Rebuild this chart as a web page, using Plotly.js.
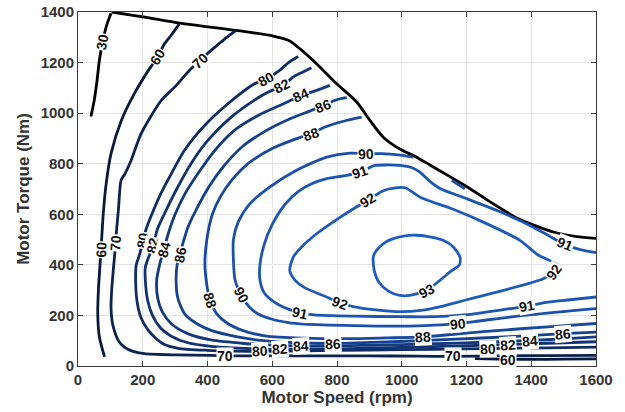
<!DOCTYPE html>
<html><head><meta charset="utf-8">
<script src="https://cdn.plot.ly/plotly-3.0.1.min.js"></script>
<style>html,body{margin:0;padding:0;background:#fff}#chart{width:625px;height:412px}</style>
</head><body><div id="chart"></div>
<script>
// ---- data (motor speed rpm, torque Nm) ----
const boundary_rpm = [104, 200, 315, 490, 603, 650, 685, 737, 799, 861, 902, 943, 994, 1046, 1087, 1150, 1200, 1260, 1312, 1355, 1410, 1468, 1540, 1600];
const boundary_nm  = [1400, 1381, 1356, 1327, 1305, 1288, 1255, 1195, 1116, 1044, 971, 905, 858, 826, 795, 748, 710, 660, 618, 585, 556, 530, 512, 505];

const c30_rpm = [40, 50, 58, 66, 76, 88, 102];
const c30_nm  = [987, 1050, 1120, 1208, 1280, 1345, 1395];

const c60a_rpm = [313, 290, 267, 246, 221, 174, 134, 102, 87, 78, 72, 67, 63, 61, 66, 82];
const c60a_nm  = [1353, 1312, 1274, 1221, 1176, 1077, 971, 840, 721, 602, 480, 380, 299, 207, 115, 36];
const c60b_rpm = [1226, 1300, 1400, 1500, 1600];
const c60b_nm  = [29, 27, 26, 27, 28];

const c70_rpm = [488, 450, 411, 376, 339, 300, 257, 195, 164, 145, 133, 125, 118, 114, 109, 104, 102, 105, 112, 125, 143, 170, 205, 300, 411, 453, 550, 700, 900, 1050, 1159, 1300, 1450, 1600];
const c70_nm  = [1327, 1290, 1248, 1208, 1162, 1105, 1050, 919, 813, 760, 734, 620, 520, 450, 380, 300, 233, 180, 141, 100, 75, 58, 49, 44, 42, 40, 40, 40, 40, 39, 38, 40, 41, 42];

const c80_rpm = [680, 650, 623, 582, 545, 463, 391, 329, 288, 255, 228, 210, 201, 190, 180, 178, 183, 195, 215, 240, 267, 310, 400, 480, 562, 700, 900, 1100, 1267, 1450, 1600];
const c80_nm  = [1224, 1200, 1169, 1136, 1116, 1037, 951, 853, 760, 680, 600, 540, 497, 440, 400, 339, 250, 190, 145, 110, 85, 70, 62, 59, 58, 60, 63, 66, 69, 72, 75];

const c82_rpm = [721, 690, 665, 629, 590, 555, 473, 401, 349, 305, 270, 245, 232, 215, 208, 208, 215, 230, 255, 288, 339, 411, 514, 623, 800, 1000, 1200, 1329, 1450, 1600];
const c82_nm  = [1180, 1160, 1143, 1106, 1085, 1060, 984, 892, 800, 700, 610, 540, 477, 420, 390, 339, 260, 200, 150, 118, 92, 78, 70, 66, 68, 74, 80, 85, 90, 96];

const c84_rpm = [778, 737, 690, 640, 555, 483, 421, 370, 330, 300, 278, 265, 252, 243, 246, 260, 290, 339, 411, 514, 617, 690, 900, 1100, 1250, 1396, 1500, 1600];
const c84_nm  = [1110, 1090, 1070, 1040, 990, 932, 850, 760, 680, 600, 520, 460, 400, 339, 270, 215, 165, 128, 103, 89, 82, 78, 82, 88, 94, 101, 107, 115];

const c86_rpm = [830, 799, 757, 721, 650, 580, 510, 450, 405, 370, 340, 325, 314, 306, 303, 308, 330, 370, 411, 493, 566, 669, 788, 950, 1150, 1350, 1499, 1600];
const c86_nm  = [1061, 1053, 1030, 1011, 975, 930, 870, 790, 710, 630, 550, 490, 440, 400, 339, 270, 205, 165, 141, 115, 101, 92, 89, 95, 105, 117, 128, 134];

const c88_rpm = [876, 820, 763, 721, 675, 600, 530, 475, 440, 415, 398, 392, 398, 407, 428, 460, 510, 582, 700, 840, 950, 1066, 1200, 1303, 1450, 1600];
const c88_nm  = [984, 968, 945, 919, 899, 860, 805, 735, 670, 600, 500, 400, 320, 260, 207, 170, 140, 118, 110, 108, 111, 115, 130, 141, 155, 168];

const c90a_rpm = [1036, 990, 938, 891, 840, 768, 675, 593, 530, 495, 480, 480, 485, 504, 530, 555, 600, 650, 700, 850, 1000, 1100, 1175, 1250, 1400, 1600];
const c90a_nm  = [826, 835, 840, 840, 842, 826, 774, 708, 640, 570, 500, 420, 340, 279, 232, 207, 185, 172, 166, 160, 158, 162, 168, 180, 203, 227];
const c90b_rpm = [1154, 1195];
const c90b_nm  = [734, 701];

const c91_rpm = [1600, 1551, 1504, 1450, 1396, 1300, 1200, 1118, 1087, 1056, 1030, 994, 950, 917, 871, 830, 768, 720, 680, 640, 600, 575, 562, 562, 575, 610, 650, 685, 730, 850, 1000, 1100, 1200, 1324, 1386, 1437, 1520, 1600];
const c91_nm  = [448, 460, 481, 518, 556, 612, 662, 702, 730, 767, 785, 793, 795, 793, 767, 754, 741, 720, 690, 640, 560, 480, 400, 340, 290, 250, 225, 210, 202, 197, 195, 195, 203, 225, 236, 250, 262, 273];

const c92_rpm = [1479, 1420, 1365, 1262, 1159, 1060, 1010, 960, 938, 896, 860, 800, 737, 690, 665, 654, 670, 700, 768, 809, 850, 920, 994, 1060, 1120, 1200, 1314, 1437, 1470, 1479];
const c92_nm  = [400, 440, 497, 563, 620, 665, 705, 700, 690, 655, 629, 580, 523, 470, 431, 378, 340, 310, 273, 250, 235, 222, 215, 220, 235, 262, 299, 345, 372, 400];

const c93_rpm = [912, 922, 950, 974, 1010, 1046, 1090, 1128, 1160, 1180, 1178, 1149, 1118, 1077, 1025, 994, 960, 930, 915, 912];
const c93_nm  = [431, 457, 490, 504, 515, 517, 510, 497, 470, 430, 400, 372, 339, 299, 279, 279, 295, 330, 378, 431];

// contour labels
const label_text = ["30","60","70","80","82","84","86","88","90","91","92","93","92","91","92","91","90","88","60","70","80","82","84","86","80","82","84","86","88","90","91","70","70","80","82","84","86","60"];
const label_rpm  = [76, 246, 376, 582, 629, 690, 757, 721, 891, 871, 896, 1077, 1470, 1504, 809, 685, 504, 407, 71, 115, 201, 232, 265, 315, 562, 623, 690, 788, 1066, 1175, 1386, 453, 1159, 1267, 1329, 1396, 1499, 1329];
const label_nm   = [1280, 1221, 1208, 1136, 1106, 1070, 1030, 919, 840, 767, 655, 295, 372, 481, 248, 208, 279, 260, 460, 488, 497, 477, 460, 440, 58, 66, 78, 89, 115, 168, 236, 40, 38, 69, 84, 100, 128, 25];
const label_angle = [-80, -59, -43, -28, -27, -24, -20, -20, -2, -18, -32, -27, -55, 22, 20, 12, 62, 73, -88, -86, -80, -78, -76, -80, -3, -3, -3, -2, -4, -6, -10, 0, 0, -2, -4, -5, -5, 0];

// ---- styling ----
const lines = [
  {x: boundary_rpm, y: boundary_nm, color: '#000000'},
  {x: c30_rpm, y: c30_nm, color: '#000000'},
  {x: c60a_rpm, y: c60a_nm, color: '#0a1a3c'},
  {x: c60b_rpm, y: c60b_nm, color: '#0a1a3c'},
  {x: c70_rpm, y: c70_nm, color: '#0c2250'},
  {x: c80_rpm, y: c80_nm, color: '#0f2c64'},
  {x: c82_rpm, y: c82_nm, color: '#113270'},
  {x: c84_rpm, y: c84_nm, color: '#13397e'},
  {x: c86_rpm, y: c86_nm, color: '#15418e'},
  {x: c88_rpm, y: c88_nm, color: '#18499e'},
  {x: c90a_rpm, y: c90a_nm, color: '#1b51ab'},
  {x: c90b_rpm, y: c90b_nm, color: '#1b51ab'},
  {x: c91_rpm, y: c91_nm, color: '#1c56b3'},
  {x: c92_rpm, y: c92_nm, color: '#1d5ab9'},
  {x: c93_rpm, y: c93_nm, color: '#1e5dbe'}
];

const traces = lines.map(l => ({
  type: 'scatter', mode: 'lines', x: l.x, y: l.y,
  line: {color: l.color, width: 2.8, shape: 'spline', smoothing: 0.7},
  hoverinfo: 'skip', showlegend: false
}));

const annotations = label_text.map((t, i) => ({
  x: label_rpm[i], y: label_nm[i], xref: 'x', yref: 'y', text: t,
  showarrow: false, textangle: label_angle[i], bgcolor: '#ffffff', borderpad: 0,
  font: {family: 'Liberation Sans, Arial, sans-serif', size: 14, color: '#111111', weight: 'bold'}
}));

const axisFont = {family: 'Liberation Sans, Arial, sans-serif', size: 15, color: '#333333', weight: 'bold'};
const titleFont = {family: 'Liberation Sans, Arial, sans-serif', size: 17, color: '#333333', weight: 'bold'};

const layout = {
  width: 625, height: 412,
  margin: {l: 78, r: 29, t: 12, b: 46},
  paper_bgcolor: '#ffffff', plot_bgcolor: '#ffffff',
  xaxis: {
    range: [0, 1600], dtick: 200, tick0: 0, showgrid: true, gridcolor: '#e4e4e4', gridwidth: 1,
    zeroline: false, showline: true, linecolor: '#3a3a3a', linewidth: 1, mirror: 'ticks',
    ticks: 'inside', ticklen: 5, tickcolor: '#3a3a3a', tickfont: axisFont,
    title: {text: 'Motor Speed (rpm)', font: titleFont, standoff: 2}, automargin: false
  },
  yaxis: {
    range: [0, 1400], dtick: 200, tick0: 0, showgrid: true, gridcolor: '#e4e4e4', gridwidth: 1,
    zeroline: false, showline: true, linecolor: '#3a3a3a', linewidth: 1, mirror: 'ticks',
    ticks: 'inside', ticklen: 5, tickcolor: '#3a3a3a', tickfont: axisFont,
    title: {text: 'Motor Torque (Nm)', font: titleFont, standoff: 6}, automargin: false
  },
  annotations: annotations
};

Plotly.newPlot('chart', traces, layout, {displayModeBar: false, staticPlot: true});
</script>
</body></html>
